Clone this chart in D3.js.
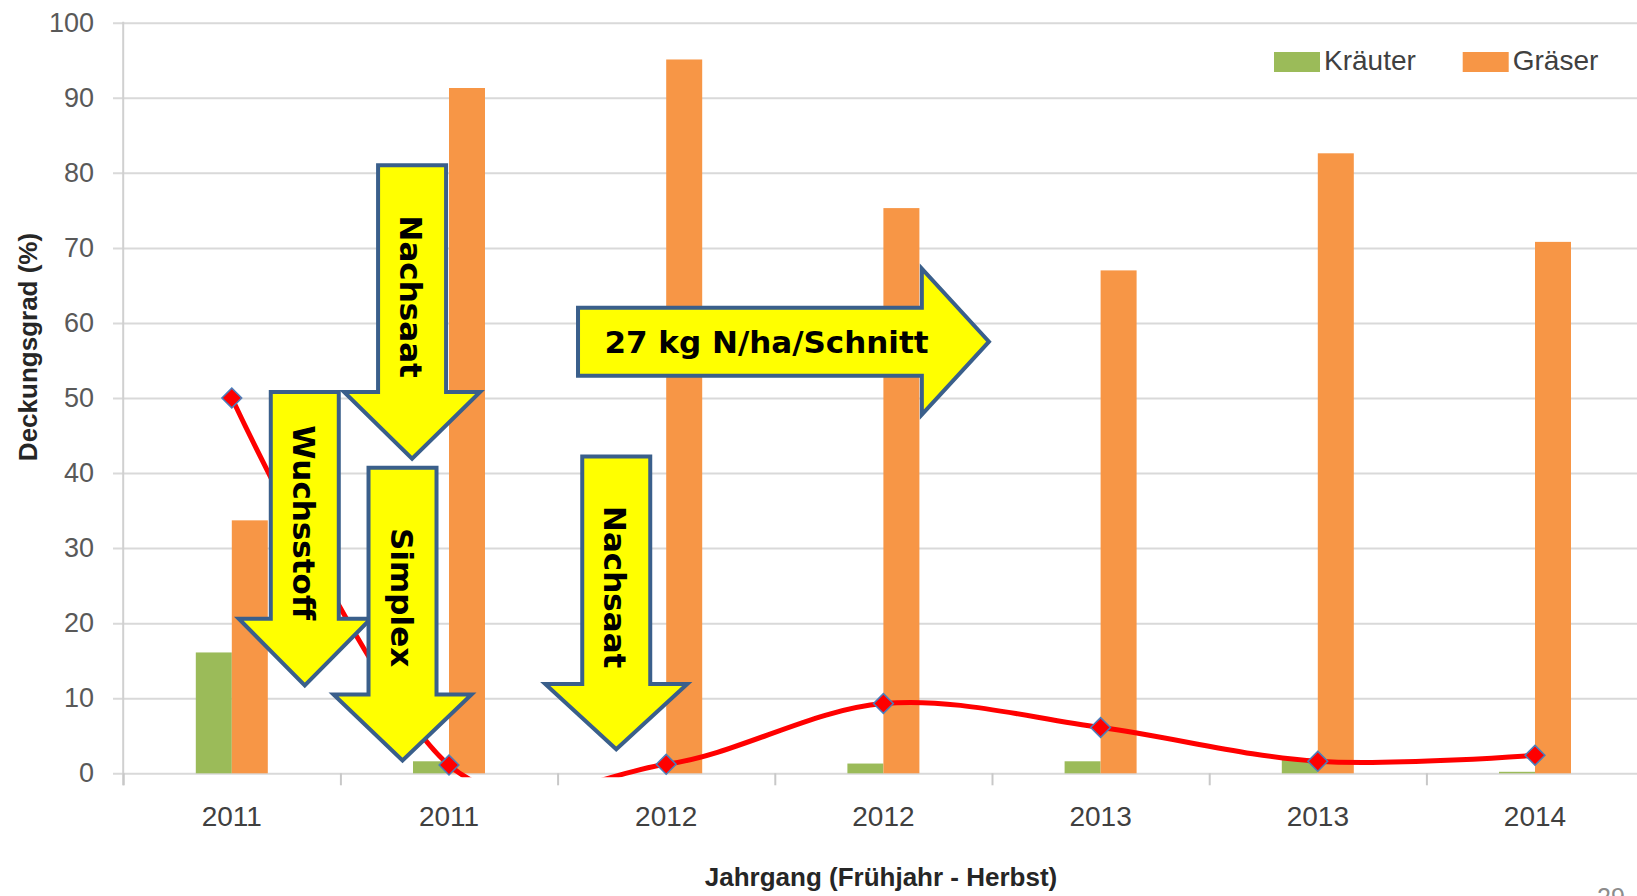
<!DOCTYPE html>
<html lang="de">
<head>
<meta charset="UTF-8">
<title>Deckungsgrad</title>
<script src="https://d3js.org/d3.v7.min.js"></script>
<style>
    body { margin: 0; background: #fff; }
    svg { display: block; }
</style>
</head>
<body>
<script>
    // Daten
    const jahrgang = ["2011", "2011", "2012", "2012", "2013", "2013", "2014"];
    const kraeuter = [16.1, 1.6, 0, 1.3, 1.6, 1.8, 0.2];
    const graeser  = [33.7, 91.3, 95.1, 75.3, 67.0, 82.6, 70.8];
    const linie    = [50, 1.1, 1.2, 9.3, 6.1, 1.6, 2.4];
    const yTicks   = d3.range(0, 101, 10);
    const serien   = ["Kräuter", "Gräser"];
    const farben   = ["#9bbb59", "#f79646"];

    // Pfeile: x in Kategoriebreiten ab linkem Rand, y in %
    const pfeileRunter = [
        {text: "Wuchsstoff", x: 0.836, top: 50.8, neck: 20.6, tip: 11.7, hw: 66, ty: 33.4},
        {text: "Nachsaat",   x: 1.33,  top: 81.0, neck: 50.8, tip: 41.9, hw: 68, ty: 63.5},
        {text: "Simplex",    x: 1.286, top: 40.7, neck: 10.5, tip: 1.7,  hw: 69, ty: 23.4},
        {text: "Nachsaat",   x: 2.27,  top: 42.2, neck: 11.9, tip: 3.2,  hw: 71, ty: 24.8}
    ];
    const pfeilRechts = {text: "27 kg N/ha/Schnitt", left: 2.094, neck: 3.677, tip: 3.986, y: 57.5, hh: 73, tx: 2.962};

    const W = 1637, H = 896;
    const x0 = 123.2, bw = 217.2, yTop = 22.7, yBot = 773.3;
    const barW = 36, sw = 34;

    const svg = d3.select("body").append("svg")
        .attr("width", W)
        .attr("height", H)
        .style("font-family", "'Liberation Sans', Arial, sans-serif");

    svg.append("rect").attr("width", W).attr("height", H).attr("fill", "#fff");

    const x = d3.scaleBand().domain(d3.range(jahrgang.length)).range([x0, x0 + jahrgang.length * bw]);
    const xu = d3.scaleLinear().domain([0, jahrgang.length]).range(x.range());
    const y = d3.scaleLinear().domain([0, 100]).range([yBot, yTop]);
    const xs = d3.scaleBand().domain(serien).range([bw / 2 - barW, bw / 2 + barW]);

    // Gitterlinien + y-Beschriftung
    const gy = svg.append("g")
        .attr("transform", "translate(113,0)")
        .call(d3.axisLeft(y).tickValues(yTicks).tickSize(-(W - 113)).tickPadding(19));
    gy.select(".domain").remove();
    gy.selectAll("line").attr("stroke", "#d9d9d9").attr("stroke-width", 2);
    gy.selectAll("text").attr("font-size", 27).attr("fill", "#595959");

    // y-Achsenlinie
    svg.append("line")
        .attr("x1", x0).attr("x2", x0)
        .attr("y1", y(100) - 1).attr("y2", y(0) + 12)
        .attr("stroke", "#d0d0d0").attr("stroke-width", 2);

    // Kategorie-Grenzen
    const gt = svg.append("g")
        .attr("transform", `translate(0,${yBot})`)
        .call(d3.axisBottom(xu).tickValues(d3.range(jahrgang.length + 1)).tickSize(12).tickFormat(""));
    gt.select(".domain").remove();
    gt.selectAll("line").attr("stroke", "#c8c8c8").attr("stroke-width", 2);

    // x-Beschriftung
    const gx = svg.append("g")
        .attr("transform", `translate(0,${yBot})`)
        .call(d3.axisBottom(x).tickSize(0).tickPadding(33).tickFormat(i => jahrgang[i]));
    gx.select(".domain").remove();
    gx.selectAll("text").attr("font-size", 28).attr("fill", "#404040");

    // Balken
    const reihen = [kraeuter, graeser];
    const gruppen = svg.append("g").selectAll("g")
        .data(jahrgang.map((j, i) => i))
        .join("g")
        .attr("transform", i => `translate(${x(i)},0)`);
    gruppen.selectAll("rect")
        .data(i => serien.map((s, k) => ({s: s, k: k, v: reihen[k][i]})))
        .join("rect")
        .attr("x", d => xs(d.s))
        .attr("width", xs.bandwidth())
        .attr("y", d => y(d.v))
        .attr("height", d => y(0) - y(d.v))
        .attr("fill", d => farben[d.k]);

    // Linie (geglättet)
    svg.append("clipPath").attr("id", "plotclip")
        .append("rect")
        .attr("x", x0).attr("y", y(100) - 10)
        .attr("width", W - x0).attr("height", y(0) - y(100) + 14);

    const lineGen = d3.line()
        .x((d, i) => x(i) + bw / 2)
        .y(d => y(d))
        .curve(d3.curveCardinal.tension(0));

    svg.append("path")
        .attr("clip-path", "url(#plotclip)")
        .attr("d", lineGen(linie))
        .attr("fill", "none")
        .attr("stroke", "#ff0000")
        .attr("stroke-width", 5);

    svg.append("g").selectAll("rect")
        .data(linie)
        .join("rect")
        .attr("x", -7).attr("y", -7)
        .attr("width", 14).attr("height", 14)
        .attr("transform", (d, i) => `translate(${x(i) + bw / 2},${y(d)}) rotate(45)`)
        .attr("fill", "#ff0000")
        .attr("stroke", "#4a7ebb")
        .attr("stroke-width", 1.5);

    // Pfeile
    const pfeilG = svg.append("g");
    pfeileRunter.forEach(p => {
        const cx = xu(p.x), t = y(p.top), n = y(p.neck), tp = y(p.tip);
        pfeilG.append("path")
            .attr("d", `M${cx - sw},${t}L${cx + sw},${t}L${cx + sw},${n}L${cx + p.hw},${n}L${cx},${tp}L${cx - p.hw},${n}L${cx - sw},${n}Z`)
            .attr("fill", "#ffff00")
            .attr("stroke", "#3a5f8b")
            .attr("stroke-width", 4);
        pfeilG.append("text")
            .attr("transform", `translate(${cx - 1},${y(p.ty)}) rotate(90)`)
            .attr("text-anchor", "middle")
            .attr("dominant-baseline", "central")
            .attr("font-family", "'DejaVu Sans', Verdana, sans-serif")
            .attr("font-weight", "bold")
            .attr("font-size", 31)
            .text(p.text);
    });

    const pr = pfeilRechts;
    const l = xu(pr.left), nk = xu(pr.neck), tp = xu(pr.tip), cy = y(pr.y);
    pfeilG.append("path")
        .attr("d", `M${l},${cy - sw}L${nk},${cy - sw}L${nk},${cy - pr.hh}L${tp},${cy}L${nk},${cy + pr.hh}L${nk},${cy + sw}L${l},${cy + sw}Z`)
        .attr("fill", "#ffff00")
        .attr("stroke", "#3a5f8b")
        .attr("stroke-width", 4);
    pfeilG.append("text")
        .attr("x", xu(pr.tx))
        .attr("y", cy)
        .attr("text-anchor", "middle")
        .attr("dominant-baseline", "central")
        .attr("font-family", "'DejaVu Sans', Verdana, sans-serif")
        .attr("font-weight", "bold")
        .attr("font-size", 31)
        .text(pr.text);

    // Legende
    const legX = [1274, 1462.7];
    const leg = svg.append("g").selectAll("g")
        .data(serien)
        .join("g")
        .attr("transform", (d, i) => `translate(${legX[i]},52)`);
    leg.append("rect").attr("width", 46).attr("height", 20).attr("fill", (d, i) => farben[i]);
    leg.append("text")
        .attr("x", 50).attr("y", 18)
        .attr("font-size", 28)
        .attr("fill", "#404040")
        .text(d => d);

    // Achsentitel
    svg.append("text")
        .attr("x", 881).attr("y", 886)
        .attr("text-anchor", "middle")
        .attr("font-weight", "bold")
        .attr("font-size", 26)
        .attr("fill", "#262626")
        .text("Jahrgang (Frühjahr - Herbst)");

    svg.append("text")
        .attr("transform", "translate(37,347) rotate(-90)")
        .attr("text-anchor", "middle")
        .attr("font-weight", "bold")
        .attr("font-size", 26)
        .attr("fill", "#262626")
        .text("Deckungsgrad (%)");

    // Foliennummer (angeschnitten)
    svg.append("text")
        .attr("x", 1597).attr("y", 906)
        .attr("font-size", 25)
        .attr("fill", "#8c8c8c")
        .text("29");
</script>
</body>
</html>
